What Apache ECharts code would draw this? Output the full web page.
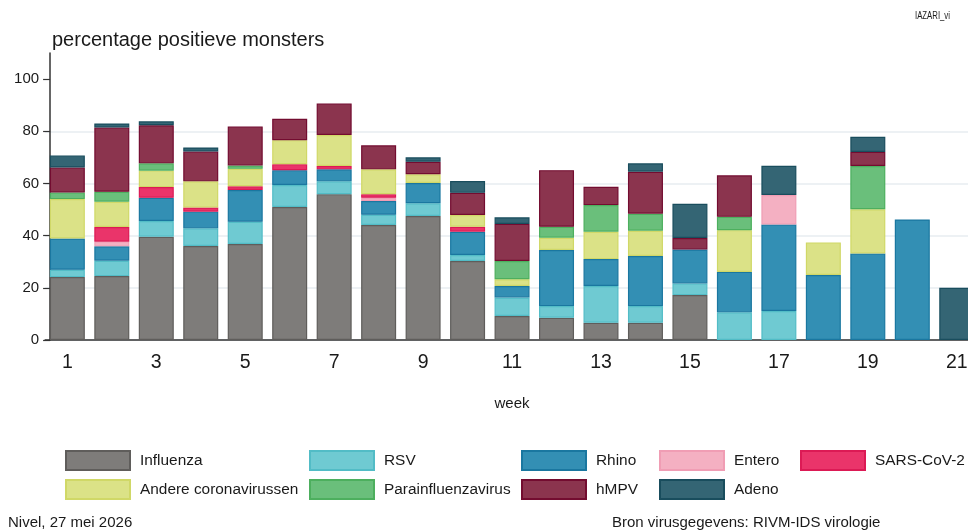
<!DOCTYPE html>
<html>
<head>
<meta charset="utf-8">
<script src="https://cdn.jsdelivr.net/npm/echarts@6/dist/echarts.min.js"></script>
<style>
  html, body { margin: 0; padding: 0; background: #ffffff; }
  #chart { width: 968px; height: 530px; }
</style>
</head>
<body>
<div id="chart"></div>
<script>
// Week numbers on the x axis
const weeks = ['1','2','3','4','5','6','7','8','9','10','11','12','13','14','15','16','17','18','19','20','21'];

// Percentage of positive samples per virus, per week (null = none found)
const influenza = [24.1, 24.5, 39.6, 36.0, 36.8, 51.0, 55.9, 44.1, 47.5, 30.3, 9.2, 8.5, 6.6, 6.6, 17.2, null, null, null, null, null, null];
const rsv       = [2.8, 5.9, 6.0, 6.8, 8.5, 8.4, 4.9, 3.9, 4.9, 2.3, 7.1, 4.5, 14.1, 6.4, 4.5, 10.6, 11.1, null, null, null, null];
const rhino     = [12.0, 5.5, 8.9, 6.4, 12.2, 5.7, 4.6, 5.3, 7.8, 8.9, 4.4, 21.5, 10.3, 19.2, 13.0, 15.5, 33.2, 24.9, 33.2, 46.2, null];
const entero    = [null, 1.8, null, null, null, null, null, 1.2, null, null, null, null, null, null, null, null, 11.3, null, null, null, null];
const sarsCov2  = [null, 5.6, 4.1, 1.6, 1.4, 2.3, 1.3, 1.4, null, 1.9, null, null, null, null, null, null, null, null, null, null, null];
const andereCorona = [15.1, 9.7, 6.3, 10.0, 6.7, 9.2, 11.9, 9.5, 3.3, 4.5, 2.6, 4.7, 10.5, 9.7, null, 16.0, null, 12.5, 16.9, null, null];
const parainfluenza = [2.5, 3.8, 2.8, null, 1.3, null, null, null, null, null, 7.0, 4.2, 10.2, 6.5, null, 5.1, null, null, 16.6, null, null];
const hmpv      = [9.6, 24.6, 14.6, 11.4, 14.9, 8.2, 12.0, 9.2, 4.8, 8.5, 14.2, 21.7, 7.0, 16.1, 4.4, 15.9, null, null, 5.4, null, null];
const adeno     = [4.6, 1.6, 1.5, 1.6, null, null, null, null, 1.7, 4.5, 2.5, null, null, 3.2, 13.1, null, 11.2, null, 5.8, null, 20.0];

// Y axis tick values
const yTicks = [0, 20, 40, 60, 80, 100];

const seriesDefs = [
  { name: 'Influenza', data: influenza, fill: '#7e7c7a', line: '#5f5d5b' },
  { name: 'RSV', data: rsv, fill: '#6fcad2', line: '#52bcc6' },
  { name: 'Rhino', data: rhino, fill: '#338fb4', line: '#1a77a0' },
  { name: 'Entero', data: entero, fill: '#f4b0c2', line: '#f09db4' },
  { name: 'SARS-CoV-2', data: sarsCov2, fill: '#ea346a', line: '#dc1a55' },
  { name: 'Andere coronavirussen', data: andereCorona, fill: '#dbe287', line: '#d0d867' },
  { name: 'Parainfluenzavirus', data: parainfluenza, fill: '#6abf7b', line: '#4daf5e' },
  { name: 'hMPV', data: hmpv, fill: '#8b344e', line: '#730c30' },
  { name: 'Adeno', data: adeno, fill: '#346574', line: '#194d5d' }
];

const textColor = '#1a1a1a';
const fontFamily = '"Liberation Sans", Arial, sans-serif';

// Legend columns (each column holds up to two entries)
const legendColumns = [
  { left: 65, names: ['Influenza', 'Andere coronavirussen'] },
  { left: 309, names: ['RSV', 'Parainfluenzavirus'] },
  { left: 521, names: ['Rhino', 'hMPV'] },
  { left: 659, names: ['Entero', 'Adeno'] },
  { left: 800, names: ['SARS-CoV-2'] }
];

const chart = echarts.init(document.getElementById('chart'), null, { renderer: 'canvas' });

chart.setOption({
  animation: false,
  backgroundColor: '#ffffff',
  textStyle: { fontFamily: fontFamily, color: textColor },
  title: {
    text: 'percentage positieve monsters',
    left: 52,
    top: 30,
    padding: 0,
    textStyle: { fontSize: 20, fontWeight: 'normal', color: textColor, fontFamily: fontFamily }
  },
  legend: legendColumns.map(col => ({
    data: col.names,
    orient: 'vertical',
    left: col.left,
    top: 450,
    padding: 0,
    itemWidth: 64,
    itemHeight: 19,
    itemGap: 8,
    icon: 'rect',
    selectedMode: false,
    textStyle: { fontSize: 15.4, color: textColor, fontFamily: fontFamily, padding: [0, 0, 0, 5] }
  })),
  grid: { left: 45.1, top: 53, width: 933.9, height: 287, containLabel: false, outerBoundsMode: 'none' },
  xAxis: [{
    type: 'category',
    data: weeks,
    boundaryGap: true,
    name: 'week',
    nameLocation: 'middle',
    nameGap: 56,
    nameTextStyle: { fontSize: 15, color: textColor, fontFamily: fontFamily },
    axisLine: { lineStyle: { color: '#333333', width: 1.5 } },
    axisTick: { interval: 0, alignWithLabel: true, length: 4, lineStyle: { color: '#333333', width: 1.2 } },
    axisLabel: { interval: 1, fontSize: 19.5, color: textColor, margin: 13, fontFamily: fontFamily },
    splitLine: { show: false }
  }, {
    // second copy of the week axis: longer ticks under the labelled weeks
    type: 'category',
    data: weeks,
    position: 'bottom',
    boundaryGap: true,
    axisLine: { show: false },
    axisTick: { interval: 1, alignWithLabel: true, length: 7, lineStyle: { color: '#333333', width: 1.2 } },
    axisLabel: { show: false },
    splitLine: { show: false }
  }],
  yAxis: {
    type: 'value',
    min: 0,
    max: 110,
    interval: 20,
    offset: -5,
    axisLine: { show: true, lineStyle: { color: '#333333', width: 1.5 } },
    axisTick: { show: true, length: 7, customValues: yTicks, lineStyle: { color: '#333333', width: 1.2 } },
    axisLabel: { fontSize: 15, color: textColor, margin: 11, customValues: yTicks, fontFamily: fontFamily },
    splitLine: { show: true, showMaxLine: false, lineStyle: { color: '#edf1f4', width: 2 } }
  },
  series: seriesDefs.map(s => ({
    name: s.name,
    type: 'bar',
    stack: 'virus',
    xAxisIndex: 0,
    barWidth: 35,
    data: s.data,
    itemStyle: { color: s.fill, borderColor: s.line, borderWidth: 1.2 }
  })),
  graphic: [
    {
      type: 'text', x: 915, y: 11, scaleX: 0.74,
      style: { text: 'IAZARI_vi', fontSize: 10.5, fill: textColor, fontFamily: fontFamily }
    },
    {
      type: 'text', left: 8, top: 515,
      style: { text: 'Nivel, 27 mei 2026', fontSize: 15, fill: textColor, fontFamily: fontFamily }
    },
    {
      type: 'text', left: 612, top: 515,
      style: { text: 'Bron virusgegevens: RIVM-IDS virologie', fontSize: 15, fill: textColor, fontFamily: fontFamily }
    }
  ]
});
</script>
</body>
</html>
